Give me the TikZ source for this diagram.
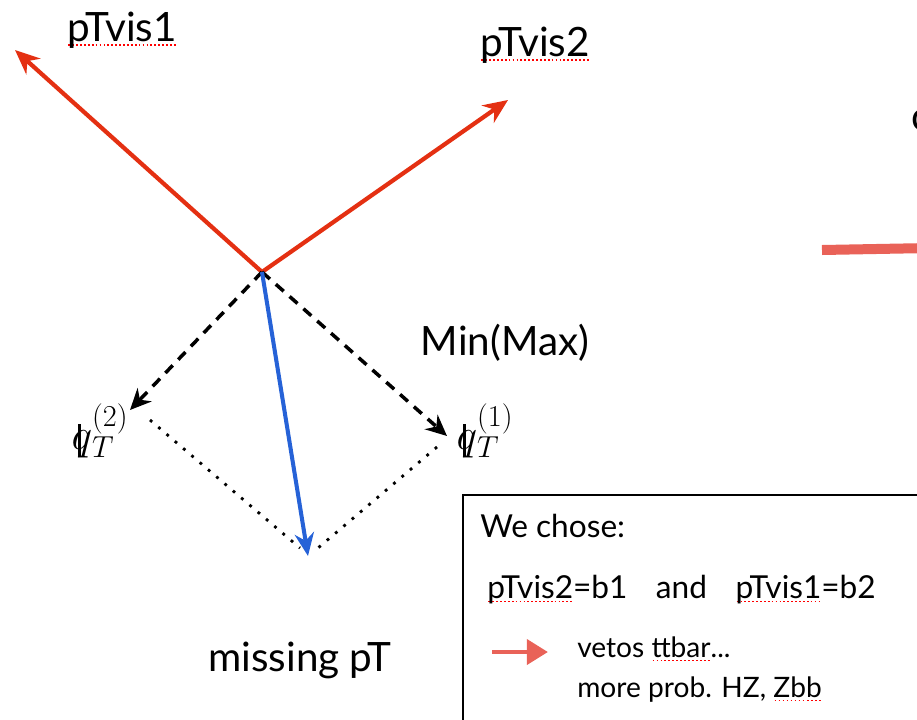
\documentclass[tikz,border=0pt]{standalone}
\usepackage{fontspec}
\setmainfont{Lato}
\usetikzlibrary{arrows.meta}
\definecolor{visred}{RGB}{228,48,18}
\definecolor{metblue}{RGB}{38,98,215}
\definecolor{notered}{RGB}{233,98,88}
\newsavebox{\spellbox}
\newcommand{\spell}[1]{\sbox{\spellbox}{#1}%
  \rlap{\color{red}\raisebox{-2.5pt}[0pt][0pt]{\hbox to \wd\spellbox{%
    \xleaders\hbox to 2.2pt{\hss\rule{1pt}{0.9pt}\hss}\hfill}}}%
  \usebox{\spellbox}}
\newcommand{\qslash}{\ooalign{$q$\cr\hidewidth\rule[-0.18em]{0.06em}{0.75em}\kern0.12em\hidewidth}}

\begin{document}
\begin{tikzpicture}[x=0.2mm, y=-0.2mm,
  vis/.style={visred, line width=2.4pt, -{Stealth[length=14pt,width=12pt]}},
  missing/.style={metblue, line width=2.3pt, -{Stealth[length=13pt,width=11pt]}},
  proj/.style={black, line width=2pt, dash pattern=on 6pt off 4.5pt, -{Stealth[length=12pt,width=11pt]}},
  side/.style={black, line width=1.6pt, dash pattern=on 1.6pt off 4.6pt},
  lbl/.style={font=\fontsize{23}{26}\selectfont, inner sep=1pt},
  qlbl/.style={font=\fontsize{25}{28}\selectfont, inner sep=1pt},
  boxtxt/.style={anchor=base west, inner sep=0pt}]
\useasboundingbox (0,0) rectangle (917,719);

% Vectors from the vertex
\coordinate (o) at (262,272);
\coordinate (v1) at (15,50);
\coordinate (v2) at (508,100);
\coordinate (met) at (308,556);
\coordinate (q2) at (130,410);
\coordinate (q1) at (447,436);
\draw[vis] (o) -- (v1);
\draw[vis] (o) -- (v2);
\draw[proj] (o) -- (q2);
\draw[proj] (o) -- (q1);

% Closing the parallelogram
\coordinate (q2s) at (150,420);
\coordinate (q1s) at (437,447);
\coordinate (metl) at (300,548);
\coordinate (metr) at (318,548);
\draw[side] (q2s) -- (metl);
\draw[side] (q1s) -- (metr);
\draw[missing] (o) -- (met);

% Labels
\node[lbl] (l1) at (122,30) {\spell{pTvis1}};
\node[lbl] (l2) at (535,45) {\spell{pTvis2}};
\node[lbl] (mm) at (505,343) {Min(Max)};
\node[lbl] (mp) at (300,660) {missing pT};
\node[qlbl] (t2) at (100,431) {$\qslash_T^{(2)}$};
\node[qlbl] (t1) at (485,431) {$\qslash_T^{(1)}$};

% Note box
\draw[line width=1.3pt] (463,740) -- (463,495) -- (940,495);
\node[boxtxt, font=\fontsize{18}{21}\selectfont] (wc) at (480,537) {We chose:};
\node[boxtxt, font=\fontsize{18}{21}\selectfont] (ch) at (487,598)
  {\spell{pTvis2}=b1\hspace{0.9em}and\hspace{0.9em}\spell{pTvis1}=b2};
\coordinate (ra) at (492,652);
\coordinate (rb) at (548,652);
\draw[notered, line width=2.8pt, -{Triangle[length=12pt,width=14pt]}] (ra) -- (rb);
\node[boxtxt, font=\fontsize{16}{19}\selectfont] (vt) at (577,657) {vetos \spell{ttbar}...};
\node[boxtxt, font=\fontsize{16}{19}\selectfont] (mo) at (577,697) {more prob. HZ, \spell{Zbb}};

% Cut-off bits at the right edge
\node[anchor=west, font=\fontsize{23}{26}\selectfont, inner sep=0pt] (cut) at (911,120) {c};
\coordinate (sa) at (822,250);
\coordinate (sb) at (930,248);
\draw[notered, line width=2mm] (sa) -- (sb);
\end{tikzpicture}
\end{document}
